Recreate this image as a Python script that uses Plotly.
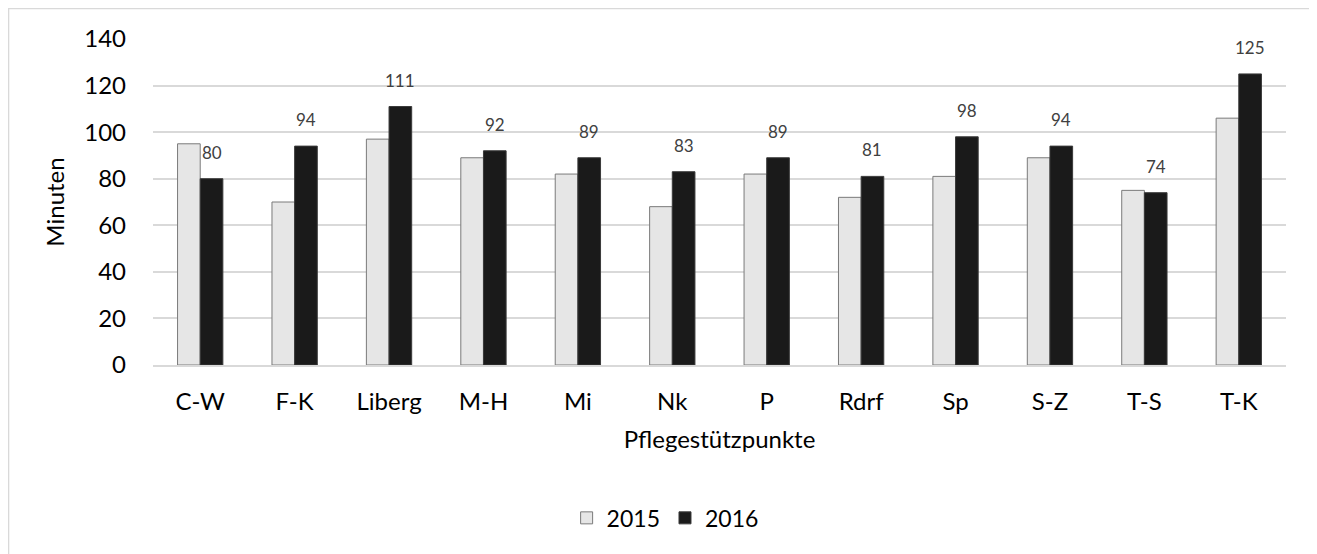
import plotly.graph_objects as go

categories = ["C-W", "F-K", "Liberg", "M-H", "Mi", "Nk", "P", "Rdrf", "Sp", "S-Z", "T-S", "T-K"]
values_2015 = [95, 70, 97, 89, 82, 68, 82, 72, 81, 89, 75, 106]
values_2016 = [80, 94, 111, 92, 89, 83, 89, 81, 98, 94, 74, 125]
y_ticks = [0, 20, 40, 60, 80, 100, 120, 140]

FONT = "Lato, 'Open Sans', sans-serif"

fig = go.Figure()
fig.add_trace(go.Bar(
    x=categories, y=values_2015, name="2015",
    marker=dict(color="#e6e6e6", line=dict(color="#7a7a7a", width=1)),
))
fig.add_trace(go.Bar(
    x=categories, y=values_2016, name="2016",
    marker=dict(color="#1a1a1a", line=dict(color="#3a3a3a", width=1)),
))

annotations = [
    dict(x=c, y=v, xref="x", yref="y", text=str(v), showarrow=False,
         xshift=11.3, yshift=14, yanchor="bottom",
         font=dict(size=17, color="#404040", family=FONT))
    for c, v in zip(categories, values_2016)
]

fig.update_layout(
    width=1317, height=554,
    margin=dict(l=145, r=39, t=31, b=197),
    barmode="group", bargap=0.52, bargroupgap=0,
    plot_bgcolor="white", paper_bgcolor="white",
    font=dict(family=FONT, color="#000000"),
    legend=dict(orientation="h", x=0.452, xanchor="center", y=-0.469, yanchor="middle",
                font=dict(size=23, family=FONT), itemwidth=30, traceorder="normal"),
    xaxis=dict(
        title=dict(text="Pflegestützpunkte", font=dict(size=24, family=FONT), standoff=18),
        tickfont=dict(size=24, family=FONT), showgrid=False,
        showline=True, linecolor="#d9d9d9", linewidth=1.5, ticks="",
        ticklabelstandoff=14,
    ),
    yaxis=dict(
        title=dict(text="Minuten", font=dict(size=24, family=FONT), standoff=12),
        range=[0, 140], tickvals=y_ticks, tickfont=dict(size=24, family=FONT),
        showgrid=True, gridcolor="#d9d9d9", gridwidth=1.5, zeroline=False,
        ticks="", ticklabelstandoff=26,
    ),
    annotations=annotations,
    shapes=[dict(type="rect", xref="paper", yref="paper",
                 x0=-0.1275, x1=1.0247, y0=-0.75, y1=1.0936,
                 line=dict(color="#d9d9d9", width=1.5), fillcolor="rgba(0,0,0,0)", layer="below")],
    showlegend=True,
)

fig.write_html("out.html")
